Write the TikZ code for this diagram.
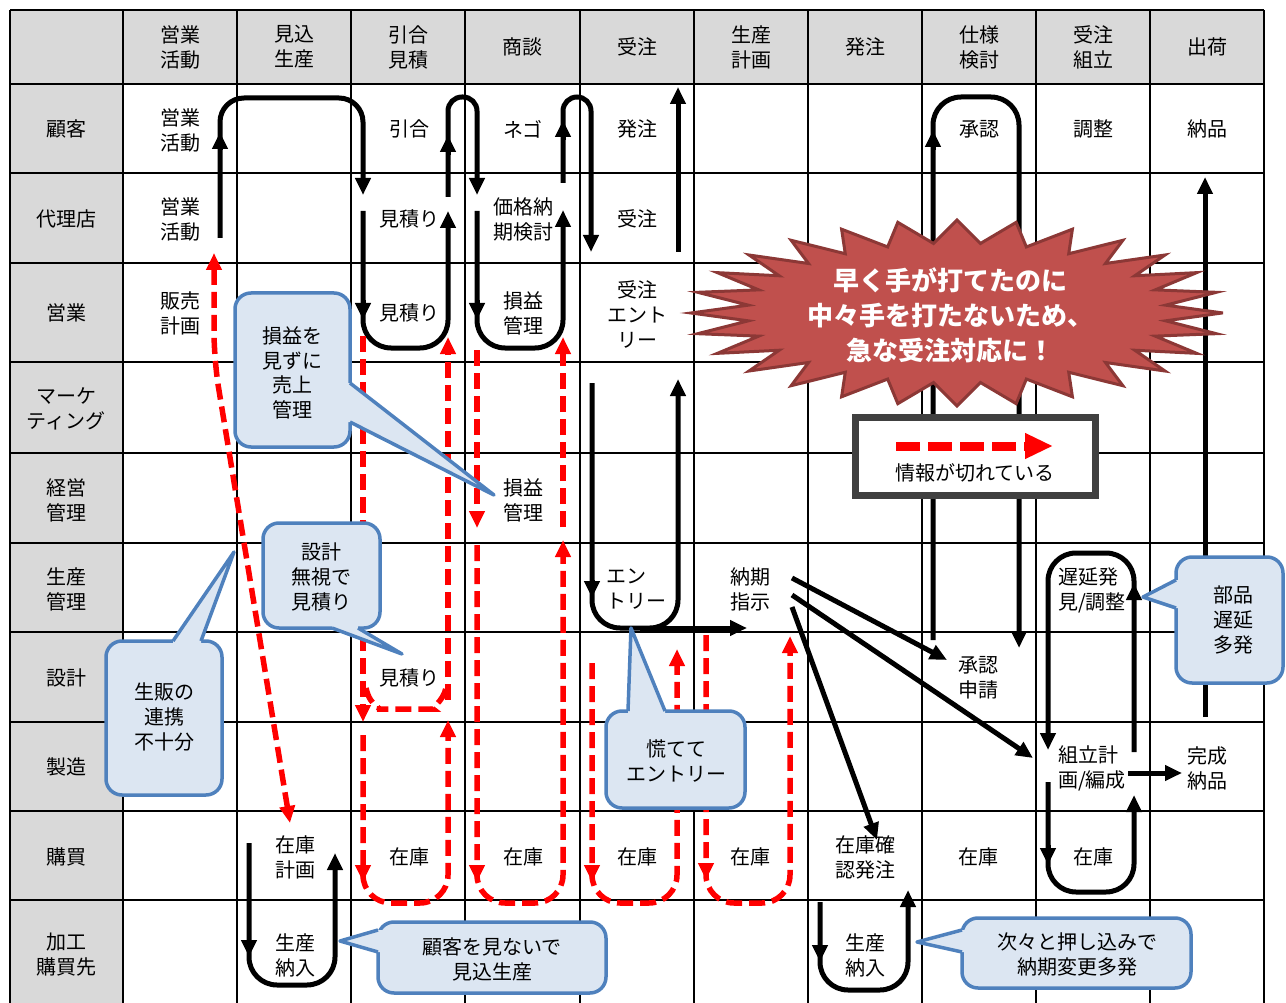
\documentclass[tikz,border=0pt]{standalone}
\usepackage{fontspec}
\setmainfont{Noto Sans CJK JP}
\usetikzlibrary{arrows.meta}
\definecolor{hdrgray}{HTML}{D9D9D9}
\definecolor{cfill}{HTML}{DCE6F2}
\definecolor{cline}{HTML}{4F81BD}
\definecolor{burstfill}{HTML}{C0504D}
\definecolor{burstline}{HTML}{8C3836}
\definecolor{legline}{HTML}{404040}
\begin{document}
\begin{tikzpicture}[x=1pt,y=-1pt,
  txt/.style={font=\fontsize{20}{25}\selectfont, align=center, inner sep=0pt},
  ltxt/.style={font=\fontsize{20}{25}\selectfont, align=left, inner sep=0pt},
  gridline/.style={line width=2.4pt},
  blk/.style={line width=5pt, rounded corners=28pt, -{Triangle[length=17pt,width=15pt]}},
  btip/.style={line width=5pt, -{Triangle[length=17pt,width=15pt]}},
  rdash/.style={draw=red, line width=5.5pt, dash pattern=on 16pt off 7pt, rounded corners=28pt, -{Triangle[length=17pt,width=15pt]}},
  rtip/.style={draw=red, line width=5.5pt, -{Triangle[length=17pt,width=15pt]}},
  cbox/.style={fill=cfill, draw=cline, line width=3.5pt, rounded corners=16pt},
  cptr/.style={draw=cline, line width=3.5pt, line join=round},
  burst/.style={fill=burstfill, draw=burstline, line width=3pt, line join=miter},
]
\useasboundingbox (0,0) rectangle (1286,1003);
% gray areas
\fill[hdrgray] (10,10) rectangle (1264,84);
\fill[hdrgray] (10,84) rectangle (123,1003);
% grid
\foreach \x in {10,123,237,351,465,580,694,808,922,1036,1150,1264}
  \draw[gridline] (\x,10) -- (\x,1003);
\foreach \y in {10,84,173,263,362,453,543,632,722,811,900}
  \draw[gridline] (10,\y) -- (1264,\y);

% header row
\node[txt] (h1) at (180,47) {営業\\活動};
\node[txt] (h2) at (294,47) {見込\\生産};
\node[txt] (h3) at (408,47) {引合\\見積};
\node[txt] (h4) at (522,47) {商談};
\node[txt] (h5) at (637,47) {受注};
\node[txt] (h6) at (751,47) {生産\\計画};
\node[txt] (h7) at (865,47) {発注};
\node[txt] (h8) at (979,47) {仕様\\検討};
\node[txt] (h9) at (1093,47) {受注\\組立};
\node[txt] (h10) at (1207,47) {出荷};
% row headers
\node[txt] (r1) at (66,129) {顧客};
\node[txt] (r2) at (66,219) {代理店};
\node[txt] (r3) at (66,313) {営業};
\node[txt] (r4) at (66,409) {マーケ\\ティング};
\node[txt] (r5) at (66,500) {経営\\管理};
\node[txt] (r6) at (66,589) {生産\\管理};
\node[txt] (r7) at (66,678) {設計};
\node[txt] (r8) at (66,767) {製造};
\node[txt] (r9) at (66,857) {購買};
\node[txt] (r10) at (66,955) {加工\\購買先};

% cell texts
\node[txt] (k1) at (180,130) {営業\\活動};
\node[txt] (k3) at (409,129) {引合};
\node[txt] (k4) at (523,129) {ネゴ};
\node[txt] (k5) at (637,129) {発注};
\node[txt] (k8) at (979,129) {承認};
\node[txt] (k9) at (1093,129) {調整};
\node[txt] (k10) at (1207,129) {納品};
\node[txt] (d1) at (180,219) {営業\\活動};
\node[txt] (d3) at (409,219) {見積り};
\node[txt] (d4) at (523,219) {価格納\\期検討};
\node[txt] (d5) at (637,219) {受注};
\node[txt] (e1) at (180,313) {販売\\計画};
\node[txt] (e3) at (409,313) {見積り};
\node[txt] (e4) at (523,313) {損益\\管理};
\node[txt] (e5) at (637,314) {受注\\エント\\リー};
\node[txt] (m4) at (523,500) {損益\\管理};
\node[ltxt] (p5) at (636,589) {エン\\トリー};
\node[txt] (p6) at (750,589) {納期\\指示};
\node[ltxt] (p9) at (1092,590) {遅延発\\見/調整};
\node[txt] (s3) at (409,678) {見積り};
\node[txt] (s8) at (978,678) {承認\\申請};
\node[ltxt] (z9) at (1092,768) {組立計\\画/編成};
\node[txt] (z10) at (1207,768) {完成\\納品};
\node[txt] (b2) at (295,857) {在庫\\計画};
\node[txt] (b3) at (409,857) {在庫};
\node[txt] (b4) at (523,857) {在庫};
\node[txt] (b5) at (637,857) {在庫};
\node[txt] (b6) at (750,857) {在庫};
\node[txt] (b7) at (865,857) {在庫確\\認発注};
\node[txt] (b8) at (978,857) {在庫};
\node[txt] (b9) at (1093,857) {在庫};
\node[txt] (g2) at (295,955) {生産\\納入};
\node[txt] (g7) at (865,955) {生産\\納入};

% black arrows
\draw[blk, rounded corners=24pt] (220,238) -- (220,98) -- (363,98) -- (363,195);
\draw[btip] (220,150) -- (220,132);
\draw[blk] (363,211) -- (363,348) -- (448,348) -- (448,211);
\draw[btip] (363,300) -- (363,320);
\draw[blk, rounded corners=14pt] (448,197) -- (448,97) -- (477,97) -- (477,195);
\draw[btip] (448,155) -- (448,135);
\draw[blk] (477,211) -- (477,348) -- (563,348) -- (563,210);
\draw[btip] (477,300) -- (477,320);
\draw[blk, rounded corners=14pt] (563,183) -- (563,97) -- (591,97) -- (591,252);
\draw[btip] (563,140) -- (563,120);
\draw[btip] (678,252) -- (678,87);
\draw[blk] (592,383) -- (592,628) -- (678,628) -- (678,379);
\draw[btip] (592,580) -- (592,598);
\draw[btip] (640,628) -- (747,628);
\draw[btip] (792,578) -- (947,660);
\draw[btip] (792,595) -- (1033,758);
\draw[btip] (792,607) -- (877,840);
\draw[blk] (933,640) -- (933,97) -- (1019,97) -- (1019,648);
\draw[btip] (933,150) -- (933,130);
\draw[blk] (1134,752) -- (1134,553) -- (1048,553) -- (1048,750);
\draw[btip] (1134,600) -- (1134,583);
\draw[blk] (1048,782) -- (1048,892) -- (1134,892) -- (1134,795);
\draw[btip] (1048,845) -- (1048,865);
\draw[btip] (1128,773) -- (1182,773);
\draw[btip] (1205,717) -- (1205,177);
\draw[blk] (249,843) -- (249,985) -- (335,985) -- (335,853);
\draw[btip] (249,940) -- (249,957);
\draw[blk] (820,902) -- (820,990) -- (908,990) -- (908,890);
\draw[btip] (820,945) -- (820,962);

% red dashed arrows
\draw[rdash, {Triangle[length=17pt,width=15pt]}-{Triangle[length=17pt,width=15pt]}] (214,253) -- (214,360) -- (290,823);
\draw[rdash] (363,336) -- (363,722);
\draw[rdash] (363,735) -- (363,903) -- (448,903) -- (448,720);
\draw[rtip] (363,865) -- (363,882);
\draw[rdash] (448,700) -- (448,337);
\draw[rdash, -] (366,688) .. controls (370,708) and (385,709) .. (405,709) .. controls (430,709) and (443,702) .. (446,688);
\draw[rdash] (477,350) -- (477,528);
\draw[rdash] (477,545) -- (477,903) -- (563,903) -- (563,540);
\draw[rtip] (477,865) -- (477,882);
\draw[rdash] (563,527) -- (563,337);
\draw[rdash] (592,663) -- (592,903) -- (677,903) -- (677,649);
\draw[rtip] (592,865) -- (592,882);
\draw[rdash] (706,635) -- (706,903) -- (790,903) -- (790,636);
\draw[rtip] (706,863) -- (706,880);

% starburst
\draw[burst] (1222,313) \foreach \a in {0,...,27} {-- ({957+210*cos((2*\a+1)*6.42857)},{313+70*sin((2*\a+1)*6.42857)}) -- ({957+266*cos((2*\a+2)*6.42857)},{313+93*sin((2*\a+2)*6.42857)})} -- cycle;
\node[font=\fontsize{26}{35}\selectfont\bfseries, text=white, align=center, inner sep=0pt] (burstText) at (950,315) {早く手が打てたのに\\中々手を打たないため、\\急な受注対応に！};

% legend
\draw[fill=white, draw=legline, line width=7pt] (855,417.5) rectangle (1095,495.5);
\coordinate (legA) at (896,446);
\coordinate (legB) at (1053,446);
\draw[draw=red, line width=9pt, dash pattern=on 24pt off 8pt, -{Triangle[length=28pt,width=24pt]}] (legA) -- (legB);
\node[txt] (legText) at (975,473) {情報が切れている};

% callouts
% 1
\draw[cbox] (235,293) rectangle (350,447);
\fill[cfill] (345,383) -- (351,383) -- (494,495) -- (351,422) -- (345,422) -- cycle;
\draw[cptr] (350,383) -- (494,495) -- (350,422);
\node[txt, font=\fontsize{20}{24.5}\selectfont] (c1) at (292,373) {損益を\\見ずに\\売上\\管理};
% 2
\draw[cbox] (263,523) rectangle (380,628);
\fill[cfill] (332,623) -- (332,629) -- (402,654) -- (358,629) -- (358,623) -- cycle;
\draw[cptr] (332,628) -- (402,654) -- (358,628);
\node[txt] (c2) at (321,577) {設計\\無視で\\見積り};
% 3
\draw[cbox] (106,641) rectangle (222,795);
\fill[cfill] (173,646) -- (173,640) -- (234,552) -- (201,640) -- (201,646) -- cycle;
\draw[cptr] (173,641) -- (234,552) -- (201,641);
\node[txt] (c3) at (164,717) {生販の\\連携\\不十分};
% 4
\draw[cbox] (606,711) rectangle (745,808);
\fill[cfill] (628,716) -- (628,710) -- (631,628) -- (665,710) -- (665,716) -- cycle;
\draw[cptr] (628,711) -- (631,628) -- (665,711);
\node[txt] (c4) at (676,761) {慌てて\\エントリー};
% 5
\draw[cbox] (378,922) rectangle (606,993);
\fill[cfill] (383,930) -- (377,930) -- (340,941) -- (377,952) -- (383,952) -- cycle;
\draw[cptr] (378,930) -- (340,941) -- (378,952);
\node[txt] (c5) at (492,959) {顧客を見ないで\\見込生産};
% 6
\draw[cbox] (962,918) rectangle (1191,988);
\fill[cfill] (967,930) -- (961,930) -- (917,942) -- (961,952) -- (967,952) -- cycle;
\draw[cptr] (962,930) -- (917,942) -- (962,952);
\node[txt] (c6) at (1077,954) {次々と押し込みで\\納期変更多発};
% 7
\draw[cbox] (1176,557) rectangle (1283,683);
\fill[cfill] (1181,580) -- (1175,580) -- (1143,597) -- (1175,608) -- (1181,608) -- cycle;
\draw[cptr] (1176,580) -- (1143,597) -- (1176,608);
\node[txt] (c7) at (1233,620) {部品\\遅延\\多発};
\end{tikzpicture}
\end{document}
